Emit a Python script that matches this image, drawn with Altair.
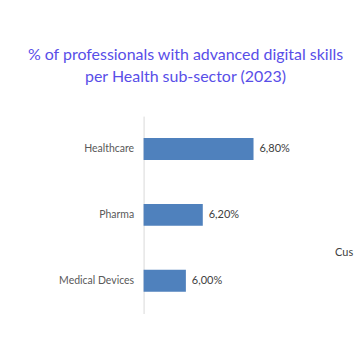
import altair as alt
import pandas as pd

categories = ["Healthcare", "Pharma", "Medical Devices"]
values = [6.80, 6.20, 6.00]
value_labels = ["6,80%", "6,20%", "6,00%"]
stray_text = ["Cus"]
axis_min = 5.5

df = pd.DataFrame({"cat": categories, "val": values, "lab": value_labels})

W, H = 212, 198
font = "Lato"

y_enc = alt.Y("cat:N", sort=categories,
              scale=alt.Scale(paddingInner=0.667, paddingOuter=0.333),
              axis=alt.Axis(title=None, ticks=False, domainColor="#D9D9D9",
                            domainWidth=1, labelColor="#595959",
                            labelFontSize=10.5, labelFont=font, labelPadding=10))
x_scale = alt.Scale(domain=[axis_min, 8.0], nice=False, zero=False)

base = alt.Chart(df)
bars = base.mark_bar(color="#4F81BD").encode(
    x=alt.X("val:Q", scale=x_scale, axis=None),
    x2=alt.X2(datum=axis_min),
    y=y_enc,
)
labels = base.mark_text(align="left", dx=6, fontSize=11, font=font,
                        color="#404040").encode(
    x=alt.X("val:Q", scale=x_scale, axis=None),
    y=alt.Y("cat:N", sort=categories),
    text="lab:N",
)
stray = alt.Chart(pd.DataFrame({"t": stray_text})).mark_text(
    align="left", baseline="middle", fontSize=11, font=font, color="#404040"
).encode(x=alt.value(192), y=alt.value(137), text="t:N")

chart = alt.layer(bars, labels, stray).properties(
    width=W, height=H,
    title=alt.TitleParams(
        text=["% of professionals with advanced digital skills",
              "per Health sub-sector (2023)"],
        color="#584EE8", fontSize=16, font=font, fontWeight="normal",
        anchor="middle", dx=-64, offset=31, lineHeight=22,
    ),
    autosize=alt.AutoSizeParams(type="none"),
    padding={"left": 144, "top": 116, "right": 0, "bottom": 0},
).configure(background="white").configure_view(stroke=None)

chart.save("out.html", embed_options={"renderer": "svg", "actions": False})
